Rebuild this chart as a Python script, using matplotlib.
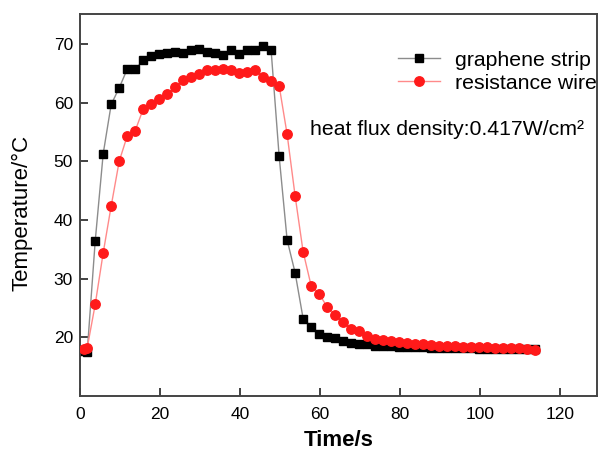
import matplotlib.pyplot as plt

plt.rcParams['font.family'] = ['Liberation Sans', 'DejaVu Sans']

# time (s) and temperature (°C)
time_s = [1.0, 1.8, 3.8, 5.8, 7.8, 9.8, 11.8, 13.8, 15.8, 17.8, 19.8, 21.8, 23.8, 25.8,
          27.8, 29.8, 31.8, 33.8, 35.8, 37.8, 39.8, 41.8, 43.8, 45.8, 47.8, 49.8,
          51.8, 53.8, 55.8, 57.8, 59.8, 61.8, 63.8, 65.8, 67.8, 69.8, 71.8, 73.8,
          75.8, 77.8, 79.8, 81.8, 83.8, 85.8, 87.8, 89.8, 91.8, 93.8, 95.8, 97.8,
          99.8, 101.8, 103.8, 105.8, 107.8, 109.8, 111.8, 113.8]

graphene = [17.6, 17.5, 36.4, 51.3, 59.7, 62.5, 65.7, 65.7, 67.2, 67.9, 68.2, 68.5, 68.7,
            68.4, 68.9, 69.1, 68.7, 68.5, 68.1, 69.0, 68.2, 69.0, 69.0, 69.7, 68.9,
            50.9, 36.6, 31.0, 23.2, 21.8, 20.6, 20.0, 19.8, 19.4, 19.1, 18.8, 18.8,
            18.6, 18.5, 18.5, 18.4, 18.4, 18.3, 18.3, 18.2, 18.2, 18.2, 18.1, 18.1,
            18.1, 18.0, 18.0, 18.0, 18.0, 18.0, 18.0, 18.0, 18.0]

resistance = [18.0, 18.2, 25.6, 34.4, 42.4, 50.0, 54.3, 55.2, 58.9, 59.7, 60.7, 61.4, 62.6,
              63.9, 64.3, 64.8, 65.6, 65.6, 65.7, 65.6, 65.1, 65.2, 65.5, 64.4, 63.6,
              62.9, 54.6, 44.1, 34.6, 28.8, 27.4, 25.2, 23.8, 22.6, 21.5, 21.0, 20.2,
              19.7, 19.5, 19.4, 19.2, 19.0, 18.9, 18.8, 18.7, 18.6, 18.6, 18.5, 18.4,
              18.4, 18.3, 18.3, 18.2, 18.2, 18.1, 18.1, 18.0, 17.9]

x_ticks = [0, 20, 40, 60, 80, 100, 120]
y_ticks = [20, 30, 40, 50, 60, 70]

fig = plt.figure(figsize=(5.98, 4.55), dpi=100)
ax = fig.add_axes([0.1338, 0.1297, 0.8645, 0.8395])

ax.plot(time_s, graphene, color='#8c8c8c', linewidth=1.0, marker='s',
        markersize=5.8, markerfacecolor='black', markeredgecolor='black',
        label='graphene strip', zorder=2)
ax.plot(time_s, resistance, color='#ff8a8a', linewidth=1.0, marker='o',
        markersize=6.8, markerfacecolor='#ff1a1a', markeredgecolor='#ff1a1a',
        label='resistance wire', zorder=3)

ax.set_xlim(0, 129.3)
ax.set_ylim(10, 75.1)
ax.set_xticks(x_ticks)
ax.set_yticks(y_ticks)
ax.tick_params(direction='in', length=6, width=1.3, labelsize=12.5, colors='#333333',
               labelcolor='black')
ax.tick_params(axis='x', pad=8)
ax.tick_params(axis='y', pad=5)
for s in ax.spines.values():
    s.set_color('#444444')
    s.set_linewidth(1.4)

ax.set_xlabel('Time/s', fontsize=16, fontweight='bold', labelpad=6)
ax.set_ylabel('Temperature/\u00b0C', fontsize=16)
ax.yaxis.set_label_coords(-0.091, 0.48)

ax.legend(loc='upper left', bbox_to_anchor=(0.615, 0.904), frameon=False,
          fontsize=15.3, handlelength=2.0, handletextpad=0.7, labelspacing=0.2,
          borderpad=0, borderaxespad=0)
ax.text(57.5, 55.4, 'heat flux density:0.417W/cm\u00b2', fontsize=15.3, va='center', ha='left')

fig.savefig('out.png', dpi=100)
